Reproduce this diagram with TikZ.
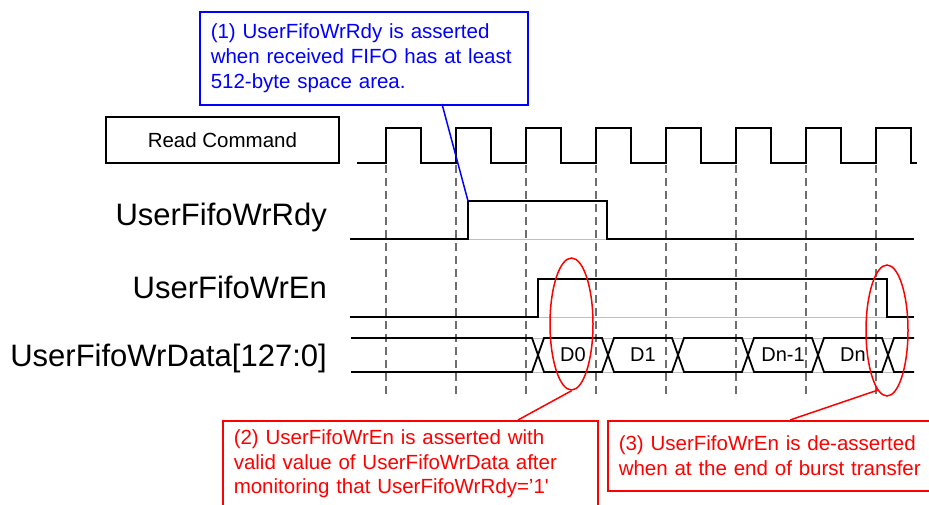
\documentclass[tikz,border=0pt]{standalone}
\usepackage{fontspec}
\setmainfont{Liberation Sans}
\usetikzlibrary{shapes.geometric}
\definecolor{pureblue}{RGB}{0,0,255}
\definecolor{purered}{RGB}{255,0,0}
\definecolor{gridgray}{RGB}{110,110,110}
\begin{document}
\begin{tikzpicture}[x=1pt,y=-1pt,
  sig/.style={line width=1.8pt,black,line join=miter},
  shadow/.style={line width=1pt,black!25},
  gridline/.style={line width=1.3pt,gridgray,dash pattern=on 8pt off 5pt},
  signame/.style={anchor=base east,inner sep=0pt,font=\fontsize{31}{36}\selectfont},
  datalbl/.style={inner sep=0pt,font=\fontsize{20}{24}\selectfont},
  bluebox/.style={draw=pureblue,line width=1.5pt,text=pureblue,anchor=north west,
    inner xsep=11pt,inner ysep=0pt,align=left,font=\fontsize{20.5}{25}\selectfont},
  redbox/.style={draw=purered,line width=1.5pt,text=purered,anchor=north west,
    inner xsep=11pt,inner ysep=0pt,align=left,font=\fontsize{20.5}{24.5}\selectfont},
  callout/.style={draw=purered,line width=1.5pt,ellipse,inner sep=0pt},
  bluelink/.style={draw=pureblue,line width=1.5pt},
  redlink/.style={draw=purered,line width=1.5pt}]
\useasboundingbox (0,0) rectangle (929,504);

% dashed timing grid
\foreach \k in {0,...,7}{
  \draw[gridline] ({386+70*\k},165) -- ({386+70*\k},396);
}

% Read Command box
\node[draw,line width=1.5pt,minimum width=233pt,minimum height=46pt,inner sep=0pt,
  font=\fontsize{20.5}{24}\selectfont] (rc) at (222.4,140) {Read Command};

% clock
\draw[sig] (357,163) foreach \k in {0,...,7} {
  -- ({386+70*\k},163) -- ({386+70*\k},128) -- ({421+70*\k},128) -- ({421+70*\k},163) }
  -- (917,163);

% signal names
\node[signame] (nrdy) at (327,225) {UserFifoWrRdy};
\node[signame] (nen) at (327,298) {UserFifoWrEn};
\node[signame] (ndata) at (327,366) {UserFifoWrData[127:0]};

% UserFifoWrRdy
\draw[shadow] (350,239) -- (914,239);
\draw[sig] (350,239) -- (468,239) -- (468,201) -- (607,201) -- (607,239) -- (914,239);
\coordinate (rdyrise) at (468,201);

% UserFifoWrEn
\draw[shadow] (350,317) -- (914,317);
\draw[sig] (350,317) -- (538,317) -- (538,279) -- (887,279) -- (887,317) -- (914,317);

% UserFifoWrData
\draw[shadow] (351,338) -- (914,338);
\draw[shadow] (351,372) -- (914,372);
\draw[sig] (351,338) -- (532,338) -- (544,372) -- (602,372) -- (614,338) -- (672,338)
  -- (684,372) -- (742,372) -- (754,338) -- (812,338) -- (824,372) -- (882,372)
  -- (894,338) -- (914,338);
\draw[sig] (351,372) -- (532,372) -- (544,338) -- (602,338) -- (614,372) -- (672,372)
  -- (684,338) -- (742,338) -- (754,372) -- (812,372) -- (824,338) -- (882,338)
  -- (894,372) -- (914,372);
\node[datalbl] (d0) at (573,355) {D0};
\node[datalbl] (d1) at (643,355) {D1};
\node[datalbl] (dn1) at (783,355) {Dn-1};
\node[datalbl] (dn) at (853,355) {Dn};

% note (1)
\node[bluebox,minimum width=328pt,minimum height=93pt,text width=306pt] (n1) at (199,11)
  {(1) UserFifoWrRdy is asserted\\when received FIFO has at least\\512-byte space area.};
\coordinate (n1foot) at (442,104);
\draw[bluelink] (n1foot) -- (rdyrise);

% callout ellipses
\node[callout,minimum width=43pt,minimum height=132pt] (e1) at (571.5,324) {};
\node[callout,minimum width=42pt,minimum height=131pt] (e2) at (887,330.5) {};

% note (2)
\node[redbox,minimum width=375pt,minimum height=86pt,text width=353pt] (n2) at (222,420)
  {(2) UserFifoWrEn is asserted with\\valid value of UserFifoWrData after\\monitoring that UserFifoWrRdy=’1\textquotesingle};
\coordinate (n2top) at (518,420);
\draw[redlink] (e1.south) -- (n2top);

% note (3)
\node[redbox,minimum width=330pt,minimum height=70pt,text width=308pt] (n3) at (607,420)
  {(3) UserFifoWrEn is de-asserted\\when at the end of burst transfer};
\coordinate (n3top) at (790,420);
\draw[redlink] (e2.261) -- (n3top);
\end{tikzpicture}
\end{document}
